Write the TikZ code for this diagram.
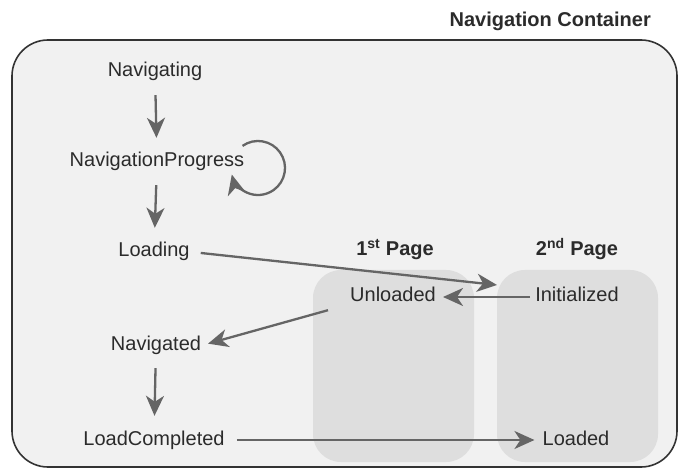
\documentclass[tikz,border=0pt]{standalone}
\usepackage{fontspec}
\setmainfont{Liberation Sans}
\usetikzlibrary{arrows.meta,calc,positioning}

\definecolor{frameline}{HTML}{333333}
\definecolor{framefill}{HTML}{F1F1F1}
\definecolor{pagefill}{HTML}{DEDEDE}
\definecolor{arrowgray}{HTML}{656565}
\definecolor{textgray}{HTML}{2B2B2B}

\tikzset{
  state/.style={font=\fontsize{20}{24}\selectfont, text=textgray, inner sep=2pt,
    text height=14pt, text depth=4pt},
  heading/.style={state, font=\fontsize{20}{24}\selectfont\bfseries},
  trans/.style={draw=arrowgray, line width=2.3pt, -{Stealth[length=20pt,width=18pt,inset=6pt]}},
  down/.style={trans, shorten <=12pt, shorten >=13pt}
}

\begin{document}
\begin{tikzpicture}[x=1pt,y=1pt]
 \useasboundingbox (0,0) rectangle (679,471);
 % container and pages
 \draw[frameline, fill=framefill, line width=1.6pt, rounded corners=36pt] (12,4) rectangle (677,431);
 \foreach \px in {313,497}{
   \fill[pagefill, rounded corners=28pt] (\px,9) rectangle ++(161,192);}
 \node[heading, anchor=east] (title) at (653,449) {Navigation Container};
 \node[heading] (pg1) at (395,220) {1\textsuperscript{st} Page};
 \node[heading] (pg2) at (577,220) {2\textsuperscript{nd} Page};
 % states
 \node[state] (navg) at (155,399) {Navigating};
 \node[state] (nprog) at (157,309) {NavigationProgress};
 \node[state] (load) at (154,219) {Loading};
 \node[state] (unl) at (393,174) {Unloaded};
 \node[state] (init) at (577,174) {Initialized};
 \node[state] (navd) at (156,126) {Navigated};
 \node[state] (lcomp) at (154,31) {LoadCompleted};
 \node[state] (ldd) at (576,31) {Loaded};
 \coordinate (gap) at (497,186);
 \coordinate (loopc) at (258,303);
 % transitions
 \draw[down] (navg) -- (nprog);
 \draw[down] (nprog) -- (load);
 \draw[down] (navd) -- (lcomp);
 \draw[trans, shorten <=9pt] (load.east) -- (gap);
 \draw[trans, shorten <=3pt, shorten >=5pt] (init.west) -- (unl.east);
 \draw[trans, shorten >=5pt] ($(unl.south west)+(-20,-2)$) -- (navd.east);
 \draw[trans, shorten <=10pt, shorten >=6pt] (lcomp.east) -- (ldd.west);
 \draw[trans] ([shift={(125:27)}]loopc) arc[start angle=125, end angle=-166, radius=27];
\end{tikzpicture}
\end{document}
